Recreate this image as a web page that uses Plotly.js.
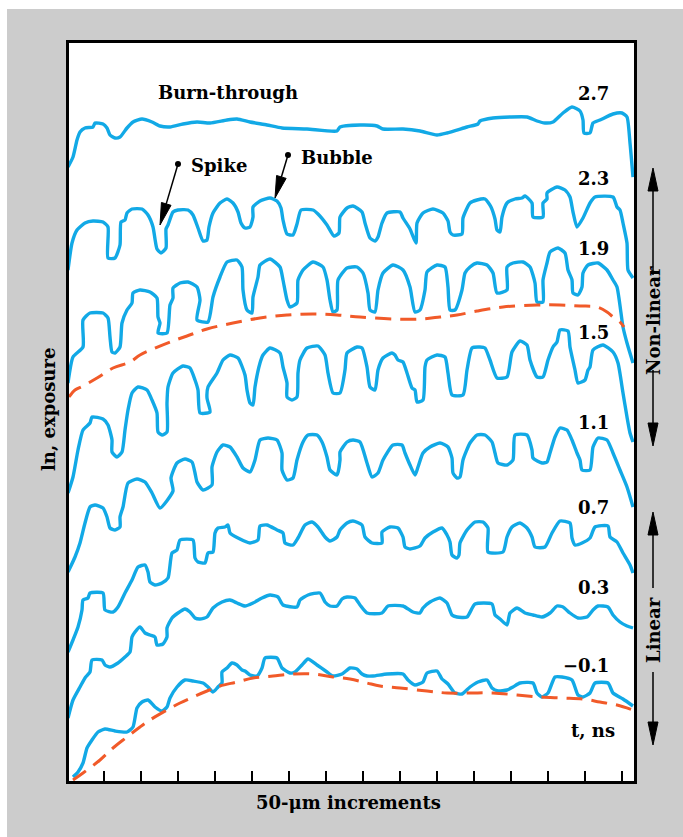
<!DOCTYPE html>
<html><head><meta charset="utf-8">
<script src="https://cdn.plot.ly/plotly-3.0.1.min.js"></script>
<style>
html,body{margin:0;padding:0;background:#ffffff;}
#chart{position:absolute;left:7px;top:9px;width:676px;height:828px;}
</style>
</head><body><div id="chart"></div>
<script>
// ---- Data (position in digitizer units, 37 units = one 50-um increment; exposure in arbitrary log units) ----
const times = ['2.7','2.3','1.9','1.5','1.1','0.7','0.3','\u22120.1'];

const lineout27 = [[1,616],[6,626],[10,643],[13,651],[18,655],[26,656],[28,660],[36,659],[40,655],[43,648],[48,645],[53,646],[60,655],[66,661],[75,664],[85,661],[93,657],[103,656],[116,659],[130,661],[143,660],[160,663],[170,664],[183,661],[200,658],[215,655],[240,654],[270,652],[273,656],[293,658],[310,657],[316,654],[336,654],[353,652],[370,648],[380,650],[400,656],[411,659],[413,662],[426,665],[443,666],[460,666],[470,662],[478,660],[486,661],[496,670],[505,676],[513,672],[516,663],[517,650],[523,650],[526,660],[533,663],[546,669],[555,670],[560,666],[563,640],[566,606]];

const lineout23 = [[1,513],[5,540],[10,553],[18,560],[26,562],[36,561],[41,556],[41,525],[48,525],[53,538],[54,561],[58,563],[60,570],[65,574],[75,574],[81,568],[86,556],[88,544],[90,534],[94,530],[99,535],[99,554],[101,558],[106,571],[111,573],[121,573],[126,568],[131,555],[136,542],[140,543],[142,556],[146,570],[153,580],[160,584],[166,580],[171,571],[174,560],[178,555],[183,556],[186,566],[186,576],[193,582],[203,585],[210,582],[214,575],[216,563],[220,549],[226,548],[230,559],[234,573],[246,573],[251,569],[260,558],[267,547],[272,550],[273,566],[280,575],[286,577],[295,571],[298,560],[303,545],[308,542],[311,546],[315,560],[320,570],[333,571],[336,565],[343,554],[349,540],[350,560],[356,570],[366,574],[376,570],[381,562],[383,551],[386,548],[395,549],[396,565],[403,580],[410,583],[418,584],[424,576],[428,564],[430,553],[433,551],[435,566],[440,580],[448,584],[455,585],[458,587],[465,580],[466,566],[476,566],[476,580],[480,584],[480,590],[490,596],[498,593],[503,586],[506,571],[510,556],[516,565],[523,580],[528,586],[546,586],[550,576],[553,573],[556,560],[560,540],[561,513],[566,505]];

const lineout19 = [[1,400],[6,426],[16,436],[16,463],[23,470],[36,470],[41,465],[43,446],[45,431],[48,430],[53,436],[55,460],[60,473],[65,480],[66,490],[73,493],[83,491],[90,485],[91,466],[93,460],[91,450],[100,450],[103,478],[106,485],[106,495],[113,500],[121,501],[130,496],[133,483],[130,463],[141,461],[146,486],[153,506],[160,521],[170,523],[175,516],[176,493],[180,473],[185,470],[186,486],[191,506],[193,518],[203,524],[213,516],[216,503],[220,483],[223,476],[230,480],[231,503],[236,513],[246,521],[256,516],[260,503],[263,483],[266,471],[270,473],[271,503],[280,515],[290,516],[296,510],[301,490],[303,473],[308,471],[311,493],[316,510],[326,518],[336,513],[343,496],[348,471],[353,473],[358,493],[360,511],[370,518],[378,516],[381,496],[383,473],[388,473],[395,493],[398,510],[403,516],[410,520],[420,518],[426,510],[430,490],[440,493],[440,516],[446,520],[456,521],[463,516],[468,500],[470,481],[476,481],[476,503],[480,520],[483,531],[491,535],[498,530],[501,513],[505,503],[506,490],[511,488],[515,496],[516,510],[521,518],[531,520],[540,513],[546,503],[550,496],[556,456],[560,440],[566,420]];

const lineout15 = [[1,290],[6,306],[11,333],[16,353],[23,360],[25,366],[36,364],[41,358],[45,343],[45,331],[50,326],[55,331],[58,353],[61,373],[65,390],[71,396],[80,393],[85,383],[90,370],[91,351],[95,348],[100,351],[100,380],[101,396],[106,410],[116,417],[123,415],[128,403],[131,393],[133,370],[143,371],[140,385],[141,396],[150,410],[156,423],[163,428],[171,425],[178,408],[180,393],[183,380],[186,378],[188,396],[193,420],[196,428],[203,435],[213,430],[216,416],[220,400],[220,386],[225,383],[230,386],[231,410],[233,423],[240,435],[251,437],[258,428],[261,410],[266,390],[273,390],[278,413],[280,430],[290,436],[295,435],[300,416],[303,396],[308,393],[311,413],[316,425],[325,430],[328,428],[331,423],[336,421],[340,410],[345,395],[348,393],[350,381],[356,383],[358,416],[360,423],[370,428],[378,426],[381,410],[385,388],[396,388],[400,413],[405,435],[413,436],[418,435],[423,423],[430,405],[440,406],[445,431],[453,442],[460,438],[463,423],[470,406],[476,406],[481,423],[486,436],[490,441],[493,453],[501,452],[503,436],[508,413],[511,400],[518,403],[521,413],[523,416],[526,433],[536,438],[546,431],[551,420],[556,390],[560,366],[563,350],[566,341]];

const lineout11 = [[1,211],[8,226],[13,240],[18,260],[23,276],[28,278],[36,275],[40,266],[43,255],[48,253],[53,256],[53,266],[56,276],[61,300],[70,304],[78,301],[85,290],[93,275],[106,292],[104,305],[110,320],[118,324],[125,321],[128,310],[130,301],[136,293],[145,298],[145,316],[150,331],[156,338],[163,336],[170,326],[176,315],[183,311],[188,323],[193,343],[201,345],[210,343],[215,330],[215,313],[220,303],[226,305],[230,323],[236,341],[241,348],[250,348],[255,341],[260,326],[263,313],[270,308],[273,323],[273,331],[280,341],[286,343],[293,341],[300,320],[305,306],[311,310],[316,323],[326,338],[335,338],[338,330],[343,318],[348,308],[351,316],[356,330],[363,336],[373,340],[381,336],[385,325],[386,310],[390,305],[393,306],[396,323],[403,340],[410,348],[418,348],[425,341],[428,330],[431,320],[440,318],[446,323],[448,348],[460,348],[465,333],[466,325],[475,320],[480,321],[483,330],[488,346],[493,355],[500,353],[505,343],[510,330],[513,323],[515,313],[523,313],[526,336],[531,345],[540,343],[546,330],[553,313],[560,296],[566,276]];

const lineout07 = [[1,131],[6,143],[11,156],[15,173],[16,183],[21,185],[23,190],[36,190],[38,173],[46,171],[51,176],[58,190],[65,203],[71,216],[78,218],[81,211],[83,201],[88,198],[95,200],[101,205],[105,230],[110,233],[113,243],[126,243],[128,225],[131,221],[138,220],[141,230],[146,231],[148,250],[151,255],[158,256],[161,258],[163,250],[171,245],[183,240],[191,243],[193,257],[200,258],[210,253],[216,250],[218,240],[226,238],[231,245],[238,258],[245,261],[251,256],[258,246],[263,242],[270,246],[273,253],[280,260],[286,262],[295,258],[298,246],[305,240],[315,240],[315,251],[323,256],[331,255],[336,246],[338,236],[343,234],[353,237],[358,245],[366,251],[375,255],[380,248],[383,241],[385,228],[390,225],[392,228],[393,240],[400,253],[408,261],[416,261],[421,255],[421,231],[436,231],[440,246],[445,256],[453,260],[460,255],[465,246],[468,236],[478,236],[485,250],[493,262],[503,260],[505,245],[508,238],[515,240],[523,245],[528,256],[541,257],[543,246],[550,241],[556,230],[563,218],[566,210]];

const lineout03 = [[1,65],[6,83],[13,96],[18,105],[23,111],[25,123],[35,123],[38,118],[43,116],[51,120],[58,126],[63,131],[65,146],[68,151],[73,156],[78,150],[83,148],[88,146],[90,138],[96,139],[100,146],[100,155],[105,165],[111,170],[118,174],[123,171],[128,165],[133,164],[140,166],[146,175],[155,181],[163,183],[170,180],[178,177],[186,180],[195,185],[203,188],[211,186],[216,178],[230,176],[233,183],[241,188],[253,190],[258,181],[263,177],[270,177],[275,184],[280,186],[288,185],[293,178],[300,170],[315,170],[321,177],[336,177],[346,171],[353,170],[356,175],[363,181],[373,185],[380,180],[385,168],[390,166],[400,166],[408,179],[425,179],[428,168],[433,164],[440,158],[443,170],[450,175],[458,170],[466,168],[475,166],[483,170],[490,177],[496,176],[503,170],[511,165],[520,166],[526,173],[531,177],[541,176],[546,168],[553,161],[560,157],[566,155]];

const lineoutM01 = [[6,6],[11,11],[16,20],[20,35],[25,43],[31,51],[38,54],[48,52],[60,51],[66,56],[70,75],[75,81],[81,83],[88,76],[95,72],[100,76],[103,85],[110,96],[118,103],[126,102],[136,100],[141,96],[146,91],[151,96],[155,100],[155,111],[160,115],[165,120],[170,118],[175,113],[178,112],[183,108],[190,107],[195,115],[198,125],[210,125],[215,115],[223,110],[228,111],[235,118],[241,124],[250,118],[260,111],[266,107],[275,109],[283,115],[290,114],[295,109],[300,107],[306,107],[320,109],[336,109],[341,103],[348,98],[356,101],[360,110],[370,112],[375,104],[381,99],[388,90],[395,89],[403,96],[411,101],[420,103],[425,95],[431,92],[440,93],[446,96],[453,100],[466,100],[470,90],[475,86],[481,90],[488,106],[495,106],[505,103],[511,88],[516,86],[523,90],[528,100],[541,100],[546,90],[556,84],[566,77]];

// Orange dashed fits (late-time and early-time envelopes)
const fitUpper = [[2,386],[8,393],[16,397],[30,405],[46,415],[63,421],[73,428],[86,434],[103,441],[120,447],[140,454],[166,460],[193,465],[220,468],[246,469],[270,468],[293,466],[326,464],[353,464],[373,466],[390,468],[410,472],[436,476],[470,478],[493,478],[513,477],[530,476],[540,471],[546,466],[553,461],[557,456]];
const fitLower = [[6,3],[16,10],[33,23],[46,35],[60,46],[73,56],[83,63],[100,73],[113,80],[126,86],[140,92],[153,97],[170,101],[186,105],[206,107],[226,109],[246,109],[266,106],[283,104],[300,100],[313,97],[333,95],[360,92],[380,90],[403,90],[426,90],[450,88],[473,86],[496,85],[516,84],[533,81],[550,78],[566,73]];

const tickPositions = [37,74,111,148,185,222,259,296,333,370,407,444,481,518,555];

// ---- Styling ----
const CYAN = '#12a9e6', ORANGE = '#f15a29';
const FONT = {family:'"DejaVu Serif", "Liberation Serif", serif', size:18, color:'#000', weight:'bold'};
const XR = [2,567], YR = [2,740];
const xp = v => (v - XR[0]) / (XR[1] - XR[0]);
const yp = v => (v - YR[0]) / (YR[1] - YR[0]);

const cyanCurves = [lineout27, lineout23, lineout19, lineout15, lineout11, lineout07, lineout03, lineoutM01];
const traces = [];
cyanCurves.forEach((c, i) => {
  traces.push({x:c.map(p=>p[0]), y:c.map(p=>p[1]), type:'scatter', mode:'lines', name:'t = '+times[i]+' ns',
    line:{color:CYAN, width:3.4, shape:'spline', smoothing:0.55}, hoverinfo:'skip'});
});
[fitUpper, fitLower].forEach(c => {
  traces.push({x:c.map(p=>p[0]), y:c.map(p=>p[1]), type:'scatter', mode:'lines',
    line:{color:ORANGE, width:3, dash:'16px,9px', shape:'spline', smoothing:1}, hoverinfo:'skip'});
});

// label placement (layout)
const labelY = [690,605,535,451,361,276,196,118];
const ann = [];
times.forEach((t,i) => ann.push({x:544, y:labelY[i], xref:'x', yref:'y', text:t, showarrow:false, xanchor:'right', yanchor:'middle', font:FONT}));
ann.push({x:550, y:53, xref:'x', yref:'y', text:'t, ns', showarrow:false, xanchor:'right', yanchor:'middle', font:FONT});
ann.push({x:161, y:691, xref:'x', yref:'y', text:'Burn-through', showarrow:false, xanchor:'center', yanchor:'middle', font:FONT});
ann.push({x:122, y:618, xref:'x', yref:'y', text:'Spike', showarrow:false, xanchor:'left', yanchor:'middle', font:FONT});
ann.push({x:232, y:626, xref:'x', yref:'y', text:'Bubble', showarrow:false, xanchor:'left', yanchor:'middle', font:FONT});
ann.push({x:xp(281), y:yp(-19), xref:'paper', yref:'paper', text:'50-\u03bcm increments', showarrow:false, xanchor:'center', yanchor:'middle', font:FONT});
ann.push({x:xp(-19), y:yp(373), xref:'paper', yref:'paper', text:'ln, exposure', textangle:-90, showarrow:false, xanchor:'center', yanchor:'middle', font:FONT});
ann.push({x:xp(586), y:yp(462), xref:'paper', yref:'paper', text:'Non-linear', textangle:-90, showarrow:false, xanchor:'center', yanchor:'middle', font:FONT});
ann.push({x:xp(586), y:yp(153), xref:'paper', yref:'paper', text:'Linear', textangle:-90, showarrow:false, xanchor:'center', yanchor:'middle', font:FONT});

// shapes: pointer arrows and regime arrows
const shapes = [];
function head(tip, from, len, hw){
  const dx = tip[0]-from[0], dy = tip[1]-from[1], L = Math.hypot(dx,dy);
  const ux = dx/L, uy = dy/L, bx = tip[0]-ux*len, by = tip[1]-uy*len;
  return {base:[bx,by], pts:[tip,[bx-uy*hw, by+ux*hw],[bx+uy*hw, by-ux*hw]]};
}
function pointer(tail, tip){
  const h = head(tip, tail, 22, 5);
  shapes.push({type:'line', xref:'x', yref:'y', x0:tail[0], y0:tail[1], x1:h.base[0], y1:h.base[1], line:{color:'#000', width:1.5}});
  shapes.push({type:'path', xref:'x', yref:'y', path:'M'+h.pts.map(p=>p[0]+','+p[1]).join('L')+'Z', fillcolor:'#000', line:{color:'#000', width:1}});
  shapes.push({type:'circle', xref:'x', yref:'y', x0:tail[0]-3, x1:tail[0]+3, y0:tail[1]-3, y1:tail[1]+3, fillcolor:'#000', line:{color:'#000', width:0}});
}
pointer([111,619],[93,558]);
pointer([221,628],[208,585]);

function vline(x, y0, y1){
  shapes.push({type:'line', xref:'paper', yref:'paper', x0:xp(x), x1:xp(x), y0:yp(y0), y1:yp(y1), line:{color:'#000', width:1.5}});
}
function vhead(x, tipY, baseY){
  const path = 'M'+xp(x)+','+yp(tipY)+'L'+xp(x-5)+','+yp(baseY)+'L'+xp(x+5)+','+yp(baseY)+'Z';
  shapes.push({type:'path', xref:'paper', yref:'paper', path:path, fillcolor:'#000', line:{color:'#000', width:1}});
}
const AX = 586;
vhead(AX,615,592); vline(AX,592,508); vline(AX,413,360); vhead(AX,337,360);
vhead(AX,271,248); vline(AX,248,195); vline(AX,111,61); vhead(AX,38,61);

const layout = {
  width:676, height:828,
  margin:{l:62, r:49, t:34, b:56, pad:0},
  paper_bgcolor:'#cccccc', plot_bgcolor:'#ffffff',
  showlegend:false,
  xaxis:{range:XR, showgrid:false, zeroline:false, showline:true, linecolor:'#000', linewidth:3, mirror:true,
    ticks:'inside', ticklen:10, tickwidth:1.5, tickcolor:'#000', tickvals:tickPositions, showticklabels:false, fixedrange:true},
  yaxis:{range:YR, showgrid:false, zeroline:false, showline:true, linecolor:'#000', linewidth:3, mirror:true,
    ticks:'', showticklabels:false, fixedrange:true},
  annotations:ann,
  shapes:shapes
};
Plotly.newPlot('chart', traces, layout, {staticPlot:true, displayModeBar:false});
</script>
</body></html>
